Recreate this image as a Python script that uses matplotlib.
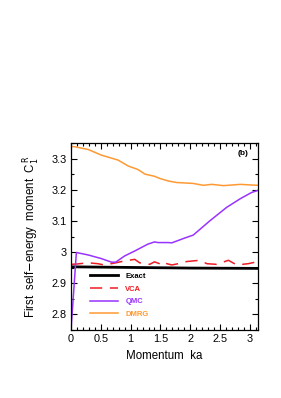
import matplotlib

matplotlib.use("Agg")
import matplotlib.pyplot as plt
from matplotlib.ticker import MultipleLocator

plt.rcParams["font.family"] = ["Liberation Sans", "DejaVu Sans"]

# values
exact_k = [0.0, 1.0, 2.0, 3.1416]
exact_c = [2.953, 2.951, 2.949, 2.948]

vca_k = [0.0, 0.1, 0.29, 0.45, 0.56, 0.73, 0.9, 1.07, 1.15, 1.32, 1.40, 1.53,
         1.55, 1.69, 1.8, 1.94, 2.05, 2.16, 2.28, 2.44, 2.55, 2.64, 2.78,
         2.97, 3.1416]
vca_c = [2.961, 2.962, 2.966, 2.963, 2.959, 2.965, 2.972, 2.977, 2.966,
         2.961, 2.969, 2.960, 2.966, 2.959, 2.963, 2.970, 2.972, 2.974,
         2.963, 2.961, 2.968, 2.974, 2.959, 2.963, 2.970]

qmc_k = [0.0, 0.09, 0.29, 0.5, 0.68, 0.75, 0.9, 1.07, 1.29, 1.40, 1.46,
         1.63, 1.69, 1.9, 2.05, 2.33, 2.61, 2.84, 3.03, 3.1416]
qmc_c = [2.75, 2.999, 2.991, 2.98, 2.968, 2.968, 2.988, 3.004, 3.026, 3.033,
         3.031, 3.031, 3.030, 3.045, 3.055, 3.101, 3.144, 3.172, 3.192, 3.199]

dmrg_k = [0.0, 0.06, 0.29, 0.51, 0.79, 0.96, 1.12, 1.24, 1.40, 1.49, 1.63,
          1.77, 2.05, 2.22, 2.36, 2.56, 2.84, 3.03, 3.1416]
dmrg_c = [3.340, 3.339, 3.330, 3.312, 3.296, 3.277, 3.266, 3.251, 3.244,
          3.237, 3.229, 3.224, 3.221, 3.215, 3.218, 3.214, 3.218, 3.216, 3.215]

fig = plt.figure(figsize=(2.81, 3.98), dpi=100)
ax = fig.add_axes([0.2527, 0.1709, 0.9192 - 0.2527, 0.6415 - 0.1709])

ax.plot(exact_k, exact_c, color="black", linewidth=2.0, label="Exact")
ax.plot(vca_k, vca_c, color="#ee1c24", linewidth=1.1, dashes=(8, 5), label="VCA")
ax.plot(qmc_k, qmc_c, color="#9933ff", linewidth=1.1, label="QMC")
ax.plot(dmrg_k, dmrg_c, color="#ff9933", linewidth=1.1, label="DMRG")

ax.set_xlim(0, 3.1416)
ax.set_ylim(2.75, 3.352)
ax.xaxis.set_minor_locator(MultipleLocator(0.1))
ax.yaxis.set_minor_locator(MultipleLocator(0.05))
ax.set_xticks([0, 0.5, 1, 1.5, 2, 2.5, 3])
ax.set_xticklabels(["0", "0.5", "1", "1.5", "2", "2.5", "3"])
ax.set_yticks([2.8, 2.9, 3.0, 3.1, 3.2, 3.3])
ax.set_yticklabels(["2.8", "2.9", "3", "3.1", "3.2", "3.3"])
ax.tick_params(which="both", direction="in", top=True, right=True,
               labelsize=7.8, width=0.8)
ax.tick_params(which="major", length=4, pad=3)
ax.tick_params(which="minor", length=2)
for s in ax.spines.values():
    s.set_linewidth(0.9)

ax.set_xlabel("Momentum  ka", fontsize=8.3, labelpad=4)
ax.set_ylabel(r"First  self$-$energy  moment  C$_1^{\,\mathrm{R}}$",
              fontsize=8.3, labelpad=7)

ax.text(0.95, 0.94, "(b)", transform=ax.transAxes, ha="right", va="center",
        fontsize=6, fontweight="bold")

leg = ax.legend(loc="lower left", bbox_to_anchor=(0.086, 0.048),
                borderaxespad=0, frameon=False, handlelength=3.7,
                handletextpad=0.9, labelspacing=0.7,
                prop={"weight": "bold", "size": 5.5})
for text, line in zip(leg.get_texts(), leg.get_lines()):
    text.set_color(line.get_color())

fig.savefig("out.png", dpi=100)
